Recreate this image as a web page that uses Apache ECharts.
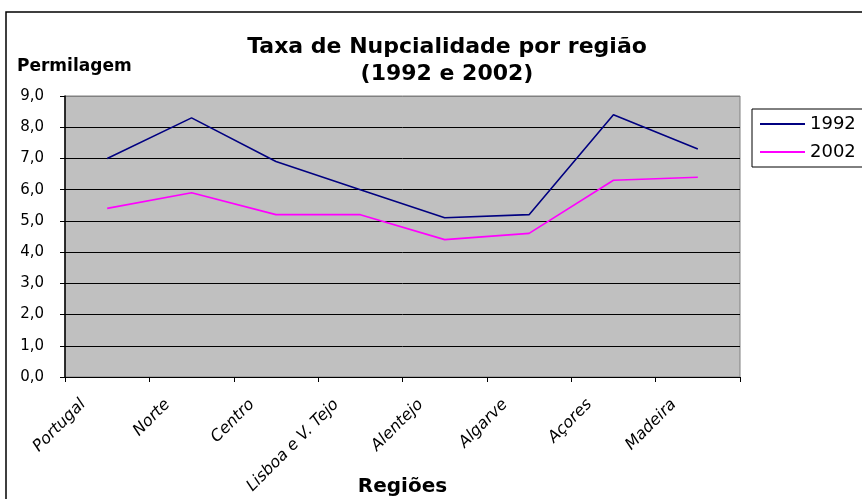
<!DOCTYPE html>
<html>
<head>
<meta charset="utf-8">
<script src="https://cdn.jsdelivr.net/npm/echarts@6/dist/echarts.min.js"></script>
<style>
html,body{margin:0;padding:0;background:#fff;}
#chart{width:862px;height:499px;}
</style>
</head>
<body>
<div id="chart"></div>
<script>
var categories = ['Portugal', 'Norte', 'Centro', 'Lisboa e V. Tejo', 'Alentejo', 'Algarve', 'Açores', 'Madeira'];
var values1992 = [7.0, 8.3, 6.9, 6.0, 5.1, 5.2, 8.4, 7.3];
var values2002 = [5.4, 5.9, 5.2, 5.2, 4.4, 4.6, 6.3, 6.4];
var seriesNames = ['1992', '2002'];
var yTicks = { min: 0, max: 9, interval: 1 };

var FONT = 'DejaVu Sans';
var chart = echarts.init(document.getElementById('chart'));
var splitColors = [];
for (var i = 0; i < 9; i++) splitColors.push('#000000');
splitColors.push('#808080');

chart.setOption({
  animation: false,
  backgroundColor: '#ffffff',
  title: [{
    text: 'Taxa de Nupcialidade por região\n(1992 e 2002)',
    left: 442, top: 29, textAlign: 'center',
    textStyle: { fontFamily: FONT, fontSize: 22, fontWeight: 'bold', lineHeight: 27, color: '#000' }
  }, {
    text: 'Permilagem',
    left: 12, top: 53,
    textStyle: { fontFamily: FONT, fontSize: 17, fontWeight: 'bold', color: '#000' }
  }],
  graphic: [{
    type: 'rect', silent: true, z: -1,
    shape: { x: 6, y: 12, width: 900, height: 600 },
    style: { fill: 'none', stroke: '#000', lineWidth: 1.5 }
  }],
  legend: {
    orient: 'vertical',
    left: 752, top: 109,
    padding: [6, 40, 6, 8],
    borderColor: '#000', borderWidth: 1,
    backgroundColor: '#fff',
    icon: 'rect',
    itemWidth: 45, itemHeight: 2, itemGap: 10,
    data: seriesNames,
    textStyle: { fontFamily: FONT, fontSize: 18, color: '#000' }
  },
  grid: {
    left: 65, right: 122, top: 96, bottom: 122,
    outerBoundsMode: 'none', containLabel: false,
    show: true, backgroundColor: '#C0C0C0', borderColor: '#808080', borderWidth: 1
  },
  xAxis: {
    type: 'category',
    data: categories,
    boundaryGap: true,
    name: 'Regiões',
    nameLocation: 'middle',
    nameGap: 100,
    nameMoveOverlap: false,
    nameTextStyle: { fontFamily: FONT, fontSize: 20, fontWeight: 'bold', color: '#000' },
    axisLine: { lineStyle: { color: '#000', width: 1 } },
    axisTick: { show: true, length: 5, inside: false, alignWithLabel: false, lineStyle: { color: '#000' } },
    axisLabel: {
      rotate: 45, interval: 0, margin: 1,
      fontFamily: FONT, fontSize: 16, fontStyle: 'italic', color: '#000',
      padding: [0, 34, 0, 0]
    },
    splitLine: { show: false }
  },
  yAxis: {
    type: 'value',
    min: yTicks.min, max: yTicks.max, interval: yTicks.interval,
    axisLine: { show: true, lineStyle: { color: '#000', width: 1.5 } },
    axisTick: { show: true, length: 5, lineStyle: { color: '#000' } },
    axisLabel: {
      margin: 21, fontFamily: FONT, fontSize: 15, color: '#000',
      formatter: function (v) { return v.toFixed(1).replace('.', ','); }
    },
    splitLine: { show: true, lineStyle: { color: splitColors, width: 1 } }
  },
  series: [{
    name: seriesNames[0], type: 'line', data: values1992,
    symbol: 'none', lineStyle: { color: '#000080', width: 1.6 }, itemStyle: { color: '#000080' }
  }, {
    name: seriesNames[1], type: 'line', data: values2002,
    symbol: 'none', lineStyle: { color: '#FF00FF', width: 1.6 }, itemStyle: { color: '#FF00FF' }
  }]
});
</script>
</body>
</html>
